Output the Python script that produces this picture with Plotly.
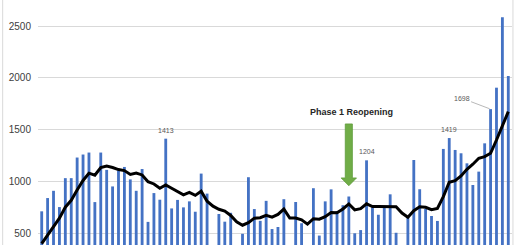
import plotly.graph_objects as go

# ---- data ----
days = list(range(1, 81))
daily_cases = [
    712, 840, 910, 753, 1032, 1032, 1231, 1260, 1279, 801,
    1279, 1112, 952, 1105, 1140, 1020, 910, 1120, 610, 888,
    824, 1413, 740, 822, 750, 808, 708, 1076, 883, 320,
    686, 612, 698, 340, 495, 1041, 734, 620, 813, 541,
    561, 829, 330, 802, 597, 350, 935, 478, 808, 924,
    715, 771, 855, 500, 531, 1204, 750, 679, 752, 876,
    505, 360, 661, 1207, 925, 735, 667, 619, 1314, 1419,
    1304, 1272, 1175, 966, 1095, 1368, 1698, 1905, 2584, 2018,
]
moving_avg = [
    400, 485, 572, 646, 752, 818, 918, 1010, 1080, 1060,
    1135, 1148, 1135, 1115, 1105, 1068, 1082, 1063, 998, 976,
    935, 967, 934, 900, 871, 895, 866, 906, 810, 762,
    732, 714, 672, 610, 578, 603, 646, 650, 673, 655,
    682, 733, 647, 647, 630, 588, 641, 636, 660, 700,
    698, 735, 783, 726, 738, 784, 758, 758, 757, 760,
    757, 695, 655, 718, 755, 751, 728, 740, 854, 992,
    1008, 1053, 1118, 1166, 1224, 1240, 1272, 1400, 1545, 1674,
]
labelled_days = [22, 30, 56, 70]
label_texts = ["1413", "320", "1204", "1419"]
leader_day = 77
leader_text = "1698"
y_ticks = [500, 1000, 1500, 2000, 2500]
event_text = "Phase 1 Reopening"
event_day = 53

BAR_COLOR = "#4472C4"
GRID = "#D9D9D9"
TXT = "#404040"

fig = go.Figure()
fig.add_trace(go.Bar(x=days, y=daily_cases, marker_color=BAR_COLOR,
                     marker_line_width=0, hoverinfo="skip"))
fig.add_trace(go.Scatter(x=days, y=moving_avg, mode="lines",
                         line=dict(color="black", width=3), hoverinfo="skip"))

# data labels
for d, t in zip(labelled_days, label_texts):
    fig.add_annotation(x=d, y=daily_cases[d - 1], text=t, showarrow=False,
                       yanchor="bottom", yshift=3,
                       font=dict(family="Liberation Sans", size=7, color="#595959"))
fig.add_annotation(x=leader_day, y=daily_cases[leader_day - 1], text=leader_text,
                   showarrow=True, arrowhead=0, arrowwidth=0.8, arrowcolor="#A6A6A6",
                   ax=-29, ay=-11, standoff=1,
                   font=dict(family="Liberation Sans", size=7, color="#595959"))

# event arrow and text
arrow_top, arrow_head, arrow_tip = 1555, 1034, 959
sw, hw = 0.6, 1.3
xc = event_day
path = (f"M {xc - sw},{arrow_top} L {xc + sw},{arrow_top} L {xc + sw},{arrow_head} "
        f"L {xc + hw},{arrow_head} L {xc},{arrow_tip} L {xc - hw},{arrow_head} "
        f"L {xc - sw},{arrow_head} Z")
fig.add_shape(type="path", path=path, xref="x", yref="y",
              fillcolor="#70AD47", line=dict(color="#5E9A3A", width=0.8))
fig.add_annotation(x=event_day + 0.4, y=1673, text=f"<b>{event_text}</b>",
                   showarrow=False,
                   font=dict(family="Liberation Sans Narrow, Liberation Sans", size=9, color="#262626"))

# chart-area borders
for xp in (-0.0745, 1.002):
    fig.add_shape(type="line", xref="paper", yref="paper", x0=xp, x1=xp, y0=0, y1=1.05,
                  line=dict(color=GRID, width=1))

fig.update_layout(
    width=520, height=245,
    margin=dict(l=38, r=8, t=0, b=0),
    paper_bgcolor="white", plot_bgcolor="white",
    showlegend=False, bargap=0.52,
    xaxis=dict(range=[0.373, 80.627], showticklabels=False, showgrid=False,
               zeroline=False, showline=False),
    yaxis=dict(range=[387, 2751], tickvals=y_ticks, showgrid=True, gridcolor=GRID,
               gridwidth=1, zeroline=False, showline=False, ticklabelstandoff=6,
               tickfont=dict(family="Liberation Sans", size=10, color=TXT)),
)
fig.write_html("out.html")
